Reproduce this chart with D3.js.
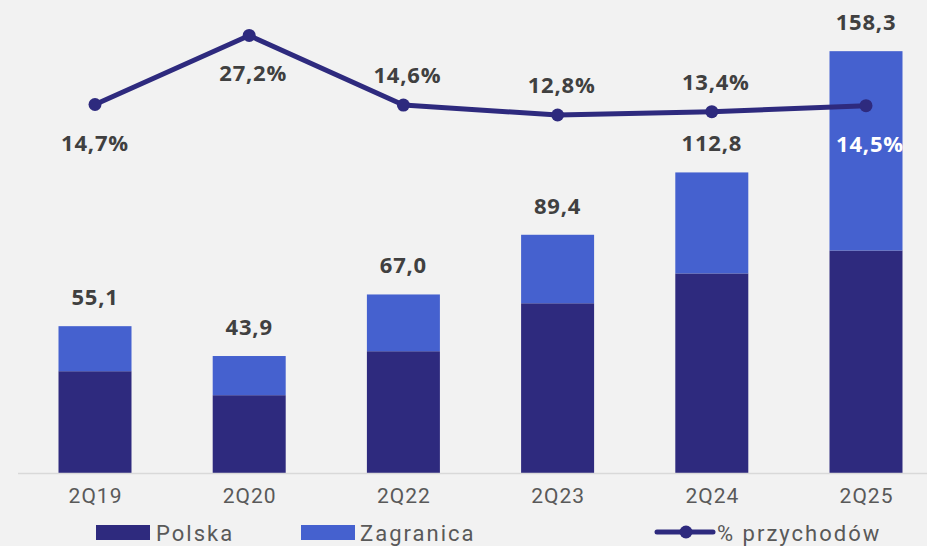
<!DOCTYPE html>
<html><head><meta charset="utf-8">
<script src="https://cdn.jsdelivr.net/npm/d3@7"></script>
<style>
html,body{margin:0;padding:0;background:#F2F2F2;}
svg{display:block;}
</style></head>
<body><svg id="chart" width="927" height="546"></svg>
<script>
const categories = ["2Q19","2Q20","2Q22","2Q23","2Q24","2Q25"];
const polska = [38.2, 29.2, 45.7, 63.7, 74.9, 83.5];
const zagranica = [16.9, 14.7, 21.3, 25.7, 37.9, 74.8];
const totals = [55.1, 43.9, 67.0, 89.4, 112.8, 158.3];
const pctRevenue = [14.7, 27.2, 14.6, 12.8, 13.4, 14.5];
const pctLabelPos = ["below","below","above","above","above","below"];
const seriesNames = ["Polska","Zagranica","% przychodów"];

const colPL = "#2E2A7E", colZA = "#4561CF", colLine = "#2E2A7E";
const fmt = v => v.toFixed(1).replace(".", ",");

const svg = d3.select("#chart");
const plotTop = 20, plotBottom = 473;
const x = d3.scalePoint().domain(categories).range([95, 866]);
const barW = 73;
const y = d3.scaleLinear().domain([0, 170]).range([plotBottom, plotTop]);
const y2 = d3.scaleLinear().domain([-52, 30]).range([plotBottom, plotTop]);

// bars
const stackData = categories.map((c,i)=>({cat:c, Polska:polska[i], Zagranica:zagranica[i]}));
const stack = d3.stack().keys(["Polska","Zagranica"])(stackData);
const colors = {Polska:colPL, Zagranica:colZA};
svg.append("g").selectAll("g").data(stack).join("g")
  .attr("fill", d=>colors[d.key])
  .selectAll("rect").data(d=>d).join("rect")
  .attr("x", d=>x(d.data.cat)-barW/2)
  .attr("width", barW)
  .attr("y", d=>y(d[1]))
  .attr("height", d=>y(d[0])-y(d[1]));

// axis
const ax = svg.append("g").attr("transform",`translate(0,${plotBottom})`)
  .call(d3.axisBottom(x).tickSize(0).tickPadding(15));
ax.select(".domain").remove();
svg.append("line").attr("x1",18).attr("x2",927).attr("y1",plotBottom+0.5).attr("y2",plotBottom+0.5)
  .attr("stroke","#D9D9D9").attr("stroke-width",1.5);
ax.selectAll("text").attr("font-family","Roboto, sans-serif").attr("font-size",21)
  .attr("letter-spacing","1px").attr("fill","#595959");

// total labels
svg.append("g").selectAll("text").data(categories).join("text")
  .attr("x", d=>x(d)).attr("y",(d,i)=>y(totals[i])-21)
  .attr("text-anchor","middle").attr("font-family","Open Sans, sans-serif")
  .attr("font-weight",700).attr("font-size",22).attr("letter-spacing","0.8px").attr("fill","#404040")
  .text((d,i)=>fmt(totals[i]));

// line
const line = d3.line().x((d,i)=>x(categories[i])).y(d=>y2(d));
svg.append("path").datum(pctRevenue).attr("d",line).attr("fill","none")
  .attr("stroke",colLine).attr("stroke-width",5).attr("stroke-linejoin","round");
svg.append("g").selectAll("circle").data(pctRevenue).join("circle")
  .attr("cx",(d,i)=>x(categories[i])).attr("cy",d=>y2(d)).attr("r",6.5).attr("fill",colLine);

svg.append("g").selectAll("text").data(pctRevenue).join("text")
  .attr("x",(d,i)=>x(categories[i])+ (i===0?0:4))
  .attr("y",(d,i)=> pctLabelPos[i]==="below" ? y2(d)+46 : y2(d)-22)
  .attr("text-anchor","middle").attr("font-family","Open Sans, sans-serif")
  .attr("font-weight",700).attr("font-size",22).attr("letter-spacing","0.8px")
  .attr("fill",(d,i)=> i===5 ? "#FFFFFF" : "#404040")
  .text(d=>fmt(d)+"%");

// legend
const lg = svg.append("g").attr("font-family","Roboto, sans-serif").attr("font-size",22)
  .attr("letter-spacing","2px").attr("fill","#595959");
lg.append("rect").attr("x",96).attr("y",525).attr("width",54).attr("height",15).attr("fill",colPL);
lg.append("text").attr("x",156).attr("y",541).text(seriesNames[0]);
lg.append("rect").attr("x",301).attr("y",525).attr("width",54).attr("height",15).attr("fill",colZA);
lg.append("text").attr("x",360).attr("y",541).text(seriesNames[1]);
lg.append("line").attr("x1",657).attr("x2",713).attr("y1",532).attr("y2",532).attr("stroke",colLine).attr("stroke-width",5).attr("stroke-linecap","round");
lg.append("circle").attr("cx",686).attr("cy",532).attr("r",6.5).attr("fill",colLine);
lg.append("text").attr("x",717).attr("y",541).text(seriesNames[2]);
</script></body></html>
